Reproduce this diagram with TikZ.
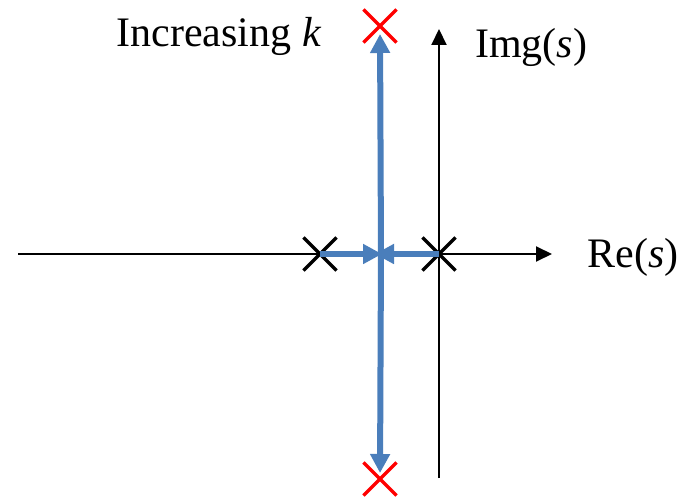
\documentclass[tikz,border=0pt]{standalone}
\usepackage{fontspec}
\setmainfont{Liberation Serif}
\usetikzlibrary{arrows.meta,shapes.misc}

\definecolor{locusblue}{RGB}{74,126,187}

\tikzset{
  axis/.style={line width=2pt, -{Triangle[length=16pt,width=15pt]}},
  locus/.style={locusblue, line width=6pt},
  locustip/.style={-{Triangle[length=19pt,width=19pt]}},
  pole/.style={cross out, draw, minimum size=30pt, inner sep=0pt, line width=3.2pt},
  lbl/.style={font=\fontsize{42}{48}\selectfont, inner sep=0pt, anchor=base}
}

\begin{document}
\begin{tikzpicture}[x=1pt, y=-1pt]
  % Frame
  \useasboundingbox (0,0) rectangle (689,497);

  % Points on the locus
  \coordinate (brk) at (381,254);
  \node[pole] (poleL) at (320,254) {};
  \node[pole] (poleR) at (439,254) {};
  \node[pole, red] (endT) at (380,26) {};
  \node[pole, red] (endB) at (380,479) {};

  % Axes
  \coordinate (reL) at (18,254);
  \coordinate (reR) at (552,254);
  \coordinate (imB) at (439,478);
  \coordinate (imT) at (439,29);
  \draw[axis] (reL) -- (reR);
  \draw[axis] (imB) -- (imT);

  % Root locus branches
  \draw[locus, locustip, shorten >=-1pt] (poleL.center) -- (brk);
  \draw[locus, locustip, shorten >=-6pt] (poleR.center) -- (brk);
  \draw[locus, locustip, shorten >=8pt] (brk) -- (endT.center);
  \draw[locus, locustip, shorten >=6pt] (brk) -- (endB.center);

  % Labels
  \node[lbl] (inc) at (219,47) {Increasing \textit{k}};
  \node[lbl] (img) at (531,58) {Img(\textit{s})};
  \node[lbl] (re) at (633,268) {Re(\textit{s})};
\end{tikzpicture}
\end{document}
